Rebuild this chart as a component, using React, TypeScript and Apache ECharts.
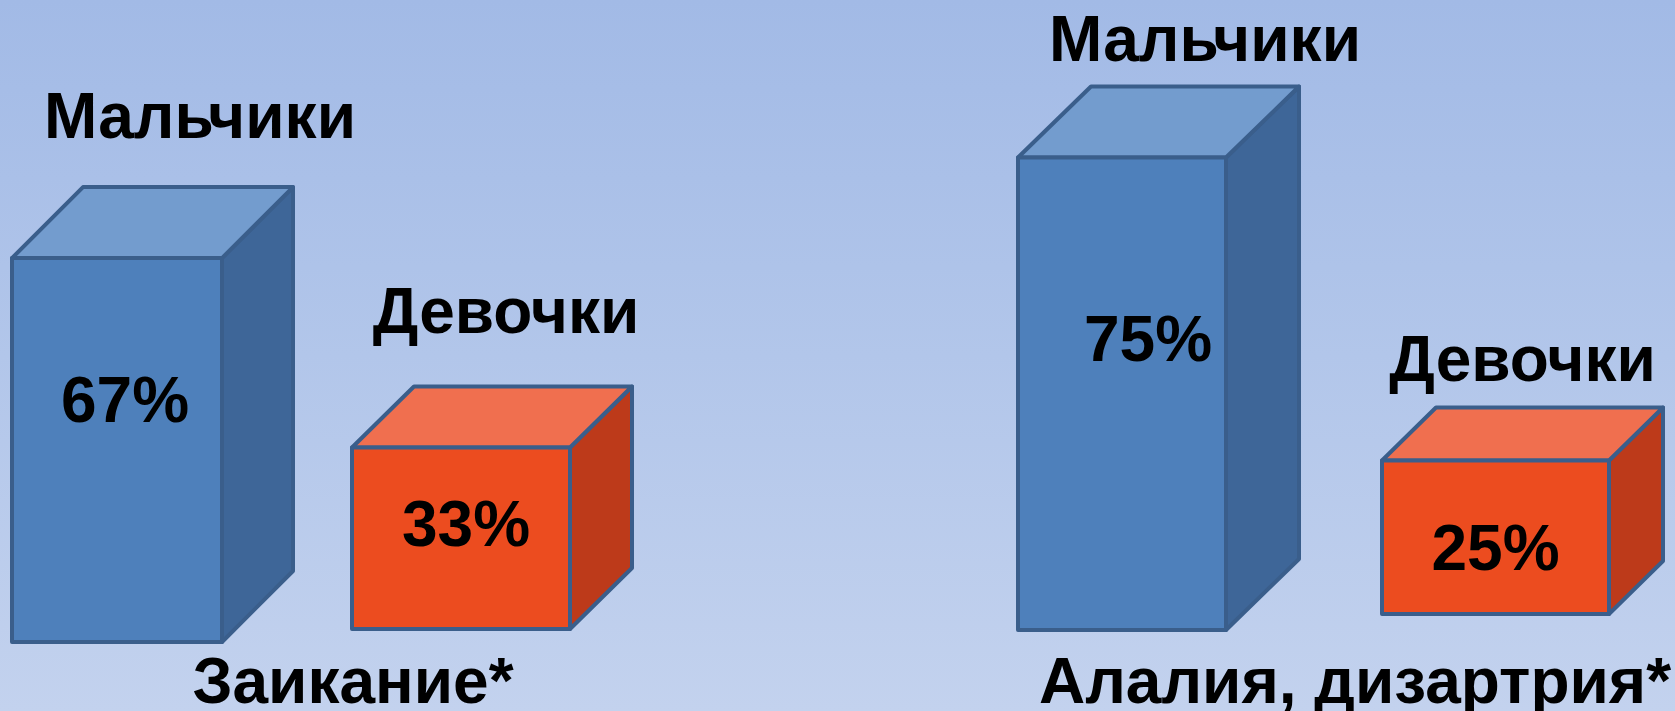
import React, { useEffect, useRef } from "react";
import * as echarts from "echarts";

// ---- data ----
const panelTitles = ["Заикание*", "Алалия, дизартрия*"];
const groupNames = ["Мальчики", "Девочки"];
const stutterValues = [67, 33];
const alaliaValues = [75, 25];

// ---- layout / style for each cuboid (panel, group) ----
const FONT = '"Liberation Sans", Arial, sans-serif';
const FONT_SIZE = 64;
const STROKE = "#3a5e8b";
const palettes = [
  { front: "#4e80bb", top: "#739cce", side: "#3e6698" },
  { front: "#ec4c1f", top: "#f06f4f", side: "#bd3a1a" },
];
const barLayout = [
  { left: 12, width: 210, baseline: 642, ppu: 5.73, dx: 71, dy: 71, val: [8, 142], name: [12, 71] },
  { left: 352, width: 218, baseline: 629, ppu: 5.5, dx: 62, dy: 61, val: [5, 76], name: [-17, 76] },
  { left: 1018, width: 208, baseline: 630, ppu: 6.32, dx: 73, dy: 71, val: [26, 181], name: [10, 48] },
  { left: 1382, width: 227, baseline: 614, ppu: 6.36, dx: 54, dy: 53, val: [0, 87], name: [-27, 49] },
];
const titleLayout = [
  { x: 353, y: 681 },
  { x: 1355, y: 681 },
];

const H = 711;

export default function App() {
  const ref = useRef<HTMLDivElement>(null);
  useEffect(() => {
    if (!ref.current) return;
    const chart = echarts.init(ref.current, undefined, { renderer: "svg" });
    const items: { value: number; group: number; panel: number }[] = [];
    [stutterValues, alaliaValues].forEach((vals, p) =>
      vals.forEach((v, g) => items.push({ value: v, group: g, panel: p }))
    );

    const grids: any[] = [];
    const xAxes: any[] = [];
    const yAxes: any[] = [];
    const series: any[] = [];
    items.forEach((it, i) => {
      const L = barLayout[i];
      const pal = palettes[it.group];
      grids.push({
        left: L.left,
        width: L.width,
        bottom: H - L.baseline,
        height: 100 * L.ppu,
        containLabel: false,
      });
      xAxes.push({ type: "category", gridIndex: i, data: [groupNames[it.group]], show: false, boundaryGap: true });
      yAxes.push({ type: "value", gridIndex: i, min: 0, max: 100, show: false });
      series.push({
        type: "custom",
        xAxisIndex: i,
        yAxisIndex: i,
        clip: false,
        data: [[0, it.value]],
        renderItem: (params: any, api: any) => {
          const v = api.value(1);
          const t = api.coord([0, v]);
          const b = api.coord([0, 0]);
          const w = api.size([1, 0])[0];
          const x0 = t[0] - w / 2;
          const x1 = t[0] + w / 2;
          const yT = t[1];
          const yB = b[1];
          const dx = L.dx;
          const dy = L.dy;
          const lineStyle = { stroke: STROKE, lineWidth: 4, lineJoin: "round" };
          return {
            type: "group",
            children: [
              {
                type: "polygon",
                shape: { points: [[x1, yT], [x1 + dx, yT - dy], [x1 + dx, yB - dy], [x1, yB]] },
                style: { fill: pal.side, ...lineStyle },
              },
              {
                type: "polygon",
                shape: { points: [[x0, yT], [x0 + dx, yT - dy], [x1 + dx, yT - dy], [x1, yT]] },
                style: { fill: pal.top, ...lineStyle },
              },
              {
                type: "rect",
                shape: { x: x0, y: yT, width: w, height: yB - yT },
                style: { fill: pal.front, ...lineStyle },
              },
              {
                type: "text",
                x: t[0] + L.val[0],
                y: yT + L.val[1],
                style: {
                  text: v + "%",
                  fill: "#000",
                  font: `bold ${FONT_SIZE}px ${FONT}`,
                  align: "center",
                  verticalAlign: "middle",
                },
              },
              {
                type: "text",
                x: t[0] + dx + L.name[0],
                y: yT - dy - L.name[1],
                style: {
                  text: groupNames[it.group],
                  fill: "#000",
                  font: `bold ${FONT_SIZE}px ${FONT}`,
                  align: "center",
                  verticalAlign: "middle",
                },
              },
            ],
          };
        },
      });
    });

    chart.setOption({
      animation: false,
      backgroundColor: new echarts.graphic.LinearGradient(0, 0, 0, 1, [
        { offset: 0, color: "#a2bae6" },
        { offset: 0.5, color: "#b2c6ea" },
        { offset: 1, color: "#c3d2ee" },
      ]),
      grid: grids,
      xAxis: xAxes,
      yAxis: yAxes,
      series,
      graphic: panelTitles.map((t, i) => ({
        type: "text",
        x: titleLayout[i].x,
        y: titleLayout[i].y,
        style: {
          text: t,
          fill: "#000",
          font: `bold ${FONT_SIZE}px ${FONT}`,
          align: "center",
          verticalAlign: "middle",
        },
      })),
    });
    return () => chart.dispose();
  }, []);
  return (
    <div
      ref={ref}
      style={{ position: "fixed", left: 0, top: 0, width: 1675, height: 711 }}
    />
  );
}
